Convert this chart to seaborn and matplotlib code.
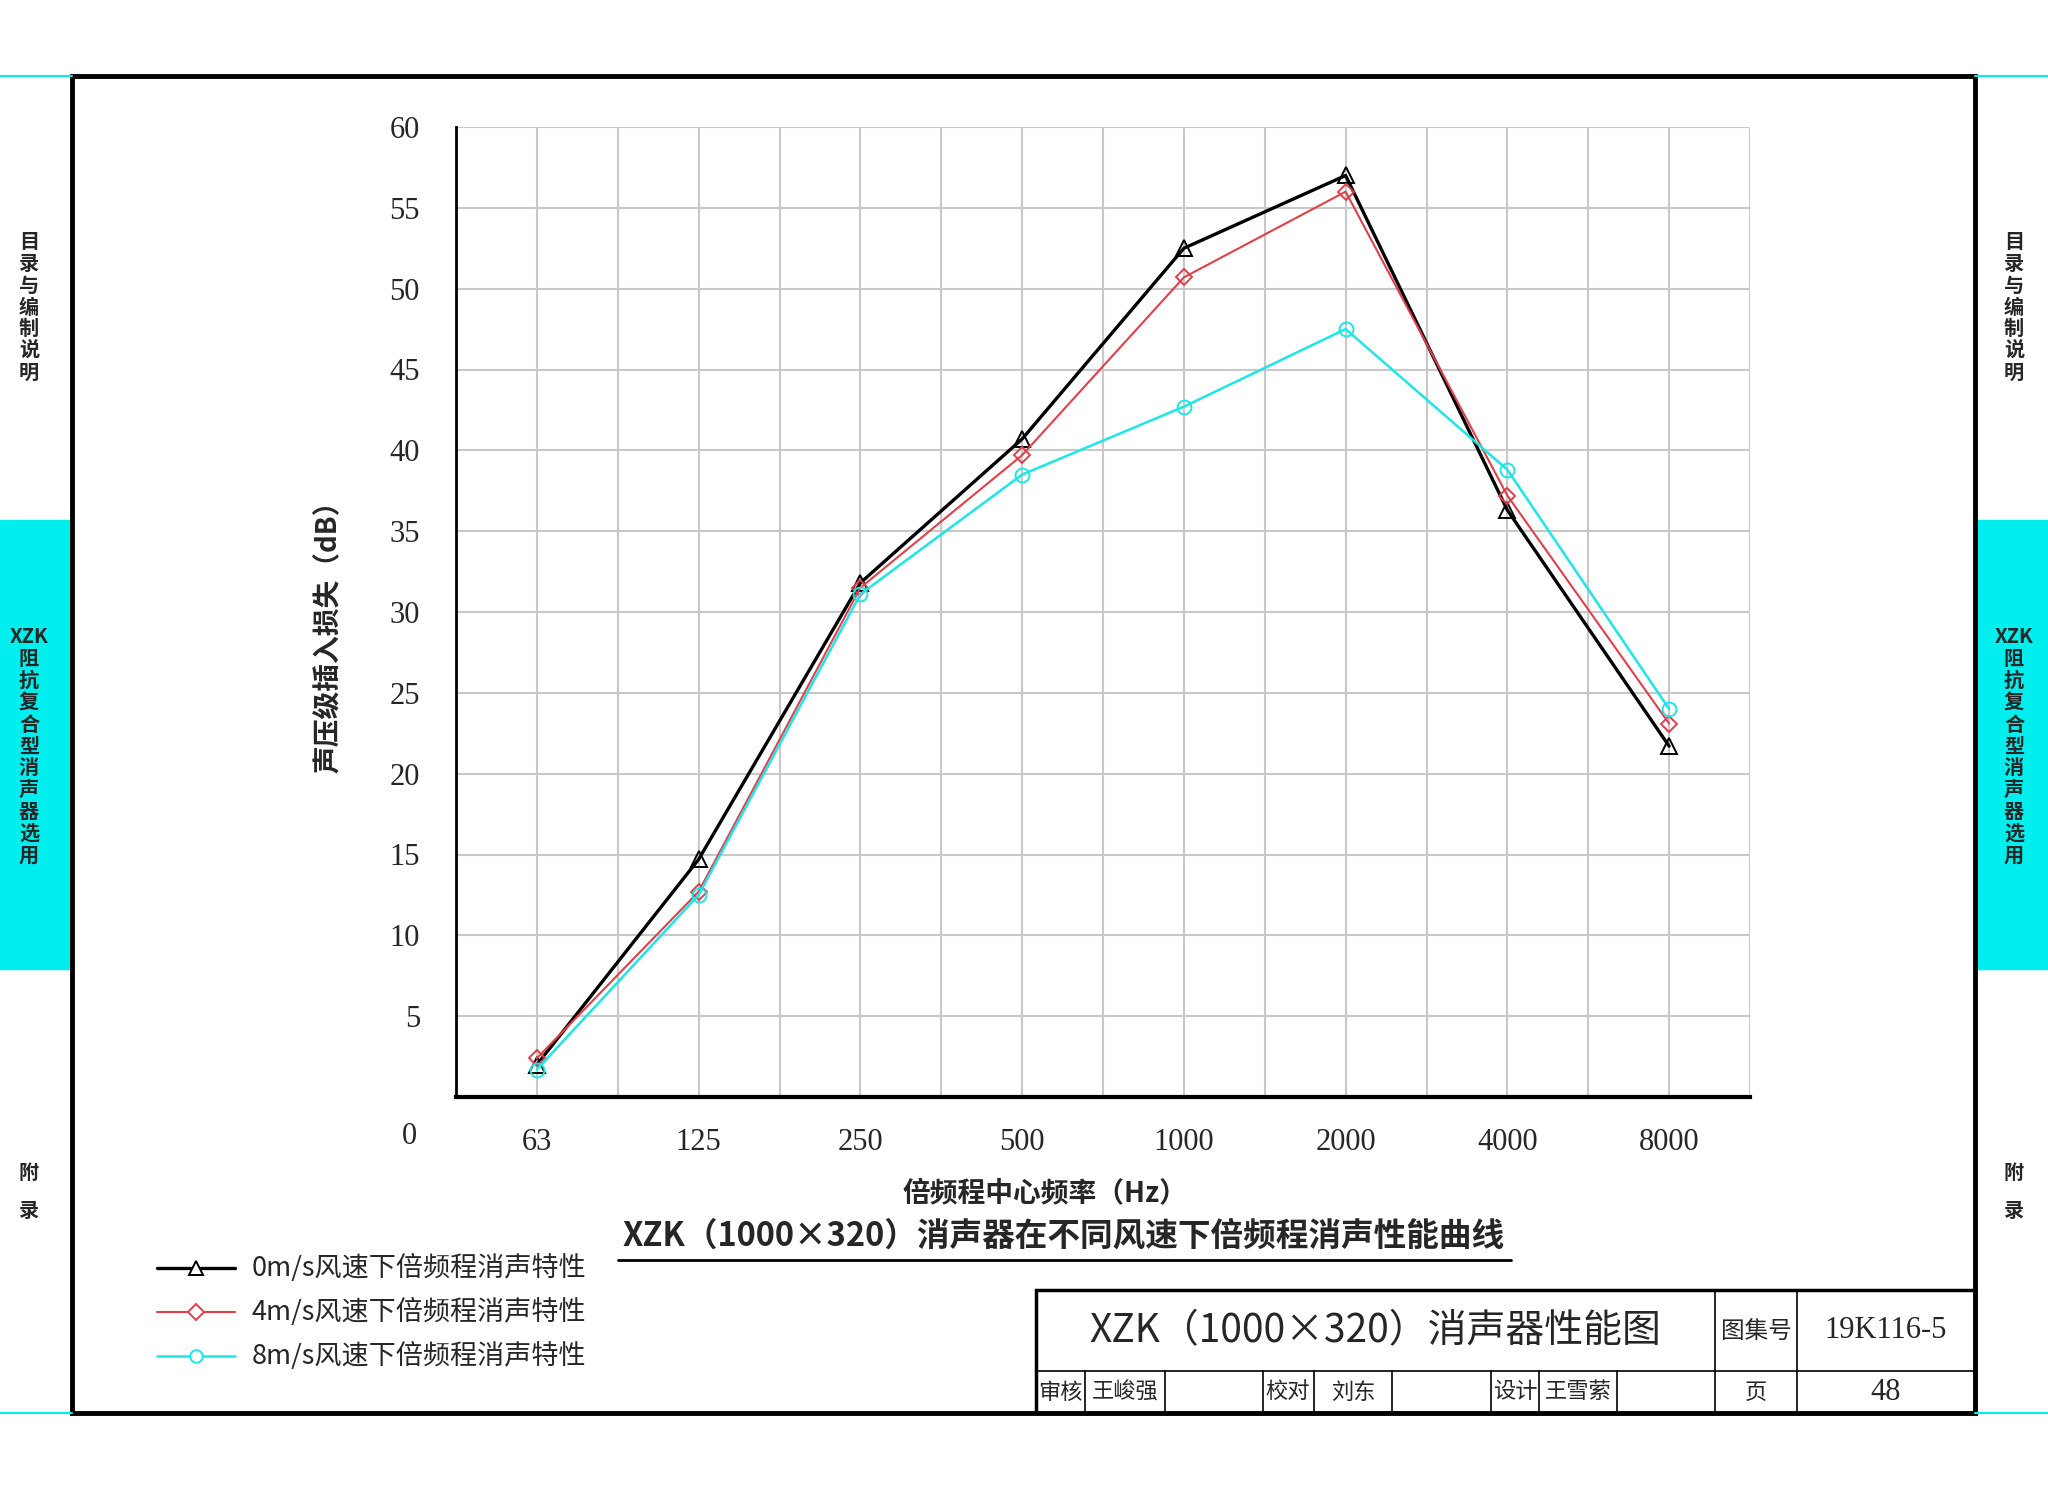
import numpy as np
import pandas as pd
import matplotlib
matplotlib.use('Agg')
import matplotlib.pyplot as plt
import seaborn as sns
from matplotlib.lines import Line2D
from matplotlib.patches import Rectangle

# ---------------------------------------------------------------------------
# Dane
# ---------------------------------------------------------------------------
freq_labels = ['63', '125', '250', '500', '1000', '2000', '4000', '8000']
loss_0ms = [2.0, 14.7, 31.8, 40.7, 52.5, 57.0, 36.3, 21.7]
loss_4ms = [2.4, 12.7, 31.5, 39.7, 50.7, 56.0, 37.2, 23.1]
loss_8ms = [1.7, 12.5, 31.1, 38.5, 42.7, 47.5, 38.8, 24.0]
series_names = ['0m/s风速下倍频程消声特性',
                '4m/s风速下倍频程消声特性',
                '8m/s风速下倍频程消声特性']
y_ticks = [5, 10, 15, 20, 25, 30, 35, 40, 45, 50, 55, 60]

W, H = 2048, 1488
CYAN = '#00eeee'


def fx(x):
    return x / W


def fy(y):
    return 1 - y / H


sns.set_theme(style='white')
plt.rcParams['font.family'] = ['Noto Sans CJK SC', 'DejaVu Sans']
plt.rcParams['axes.unicode_minus'] = False

fig = plt.figure(figsize=(W / 100, H / 100), dpi=100)
fig.patch.set_facecolor('white')

# ---------------------------------------------------------------------------
# Wykres
# ---------------------------------------------------------------------------
ax = fig.add_axes([fx(456), fy(1097), fx(1750) - fx(456), fy(127) - fy(1097)])
ax.set_facecolor('white')

pos = np.arange(len(freq_labels))
styles = [
    dict(color='#000000', lw=2.4, marker='^', ms=11),
    dict(color='#e0404a', lw=1.5, marker='D', ms=8.5),
    dict(color='#1ee6e6', lw=1.8, marker='o', ms=10),
]
for vals, name, st in zip([loss_0ms, loss_4ms, loss_8ms], series_names, styles):
    df = pd.DataFrame({'pos': pos, 'loss': vals})
    sns.lineplot(data=df, x='pos', y='loss', ax=ax, color=st['color'],
                 lw=st['lw'], marker=st['marker'], ms=st['ms'],
                 mfc='none', mec=st['color'], mew=1.4, zorder=3)

ax.set_xlim(-0.5, len(freq_labels) - 0.5)
ax.set_ylim(0, 60)
ax.set_xticks(pos)
ax.set_xticks(pos + 0.5, minor=True)
ax.set_xticklabels(freq_labels)
ax.set_yticks(y_ticks)
ax.set_yticklabels([str(t) for t in y_ticks])
ax.grid(True, which='both', color='#c8c8c8', lw=1.5)
ax.set_axisbelow(True)
ax.tick_params(axis='both', which='both', length=0)
ax.tick_params(axis='x', pad=22)
ax.tick_params(axis='y', pad=26)
for lab in ax.get_xticklabels() + ax.get_yticklabels():
    lab.set_fontfamily('Liberation Serif')
    lab.set_fontsize(22)
ax.set_xlabel('')
ax.set_ylabel('')
for s in ['top', 'right']:
    ax.spines[s].set_visible(False)
ax.spines['left'].set_color('black')
ax.spines['left'].set_linewidth(2)
ax.spines['bottom'].set_color('black')
ax.spines['bottom'].set_linewidth(3)

fig.text(fx(409), fy(1137), '0', family='Liberation Serif', fontsize=22,
         ha='center', va='center')

fig.text(fx(329), fy(630), '声压级插入损失（dB）', rotation=90, fontsize=20,
         fontweight='bold', ha='center', va='center')
fig.text(fx(1045), fy(1194), '倍频程中心频率（Hz）', fontsize=20,
         fontweight='bold', ha='center', va='center')
fig.text(fx(1064), fy(1236), 'XZK（1000×320）消声器在不同风速下倍频程消声性能曲线',
         fontsize=23.5, fontweight='bold', ha='center', va='center')
fig.add_artist(Line2D([fx(618), fx(1511)], [fy(1260), fy(1260)],
                      color='black', lw=2, transform=fig.transFigure))

# legenda
for i, (name, st) in enumerate(zip(series_names, styles)):
    yy = fy(1268 + i * 44)
    fig.add_artist(Line2D([fx(157), fx(235)], [yy, yy], color=st['color'],
                          lw=st['lw'], transform=fig.transFigure))
    fig.add_artist(Line2D([fx(196)], [yy], color=st['color'], marker=st['marker'],
                          ms=st['ms'] * 0.9, mfc='white', mec=st['color'], mew=1.4,
                          transform=fig.transFigure))
    fig.text(fx(252), yy, name, fontsize=19.5, ha='left', va='center')

# ---------------------------------------------------------------------------
# Ramka rysunku, zakładki boczne, tabelka
# ---------------------------------------------------------------------------
fig.add_artist(Rectangle((0, fy(969)), fx(70), (969 - 520) / H, color=CYAN,
                         transform=fig.transFigure, zorder=0))
fig.add_artist(Rectangle((fx(1977), fy(969)), fx(W - 1977), (969 - 520) / H,
                         color=CYAN, transform=fig.transFigure, zorder=0))
for yline in [76, 1413]:
    for x0, x1 in [(0, 72), (1975, W)]:
        fig.add_artist(Line2D([fx(x0), fx(x1)], [fy(yline), fy(yline)],
                              color=CYAN, lw=1.5, transform=fig.transFigure))
fig.add_artist(Rectangle((fx(72), fy(1413)), fx(1975 - 72), (1413 - 76) / H,
                         fill=False, ec='black', lw=3.5, transform=fig.transFigure))

tab_texts = [('目\n录\n与\n编\n制\n说\n明', 307, 1.05),
             ('XZK\n阻\n抗\n复\n合\n型\n消\n声\n器\n选\n用', 746, 1.05),
             ('附\n录', 1191, 2.0)]
for txt, yc, ls in tab_texts:
    for xc in [29, 2014]:
        fig.text(fx(xc), fy(yc), txt, fontsize=14.5, fontweight='bold',
                 ha='center', va='center', linespacing=ls)

# tabelka tytułowa
fig.add_artist(Rectangle((fx(1036), fy(1413)), fx(1975 - 1036), (1413 - 1290) / H,
                         fill=False, ec='black', lw=2.5, transform=fig.transFigure))
fig.add_artist(Line2D([fx(1036), fx(1975)], [fy(1371), fy(1371)], color='black',
                      lw=1.2, transform=fig.transFigure))
for xv in [1715, 1797]:
    fig.add_artist(Line2D([fx(xv), fx(xv)], [fy(1290), fy(1413)], color='black',
                          lw=1.2, transform=fig.transFigure))
for xv in [1085, 1165, 1263, 1314, 1392, 1491, 1539, 1617]:
    fig.add_artist(Line2D([fx(xv), fx(xv)], [fy(1371), fy(1413)], color='black',
                          lw=1.2, transform=fig.transFigure))

fig.text(fx(1375), fy(1331), 'XZK（1000×320）消声器性能图', fontsize=28,
         ha='center', va='center')
fig.text(fx(1756), fy(1331), '图集号', fontsize=17, ha='center', va='center')
fig.text(fx(1886), fy(1331), '19K116-5', family='Liberation Serif', fontsize=22,
         ha='center', va='center')
for txt, xc in [('审核', 1060), ('王峻强', 1125), ('校对', 1288), ('刘东', 1353),
                ('设计', 1515), ('王雪萦', 1578), ('页', 1756)]:
    fig.text(fx(xc), fy(1392), txt, fontsize=16, ha='center', va='center')
fig.text(fx(1886), fy(1392), '48', family='Liberation Serif', fontsize=22,
         ha='center', va='center')

plt.savefig('out.png', dpi=100)
plt.close()
